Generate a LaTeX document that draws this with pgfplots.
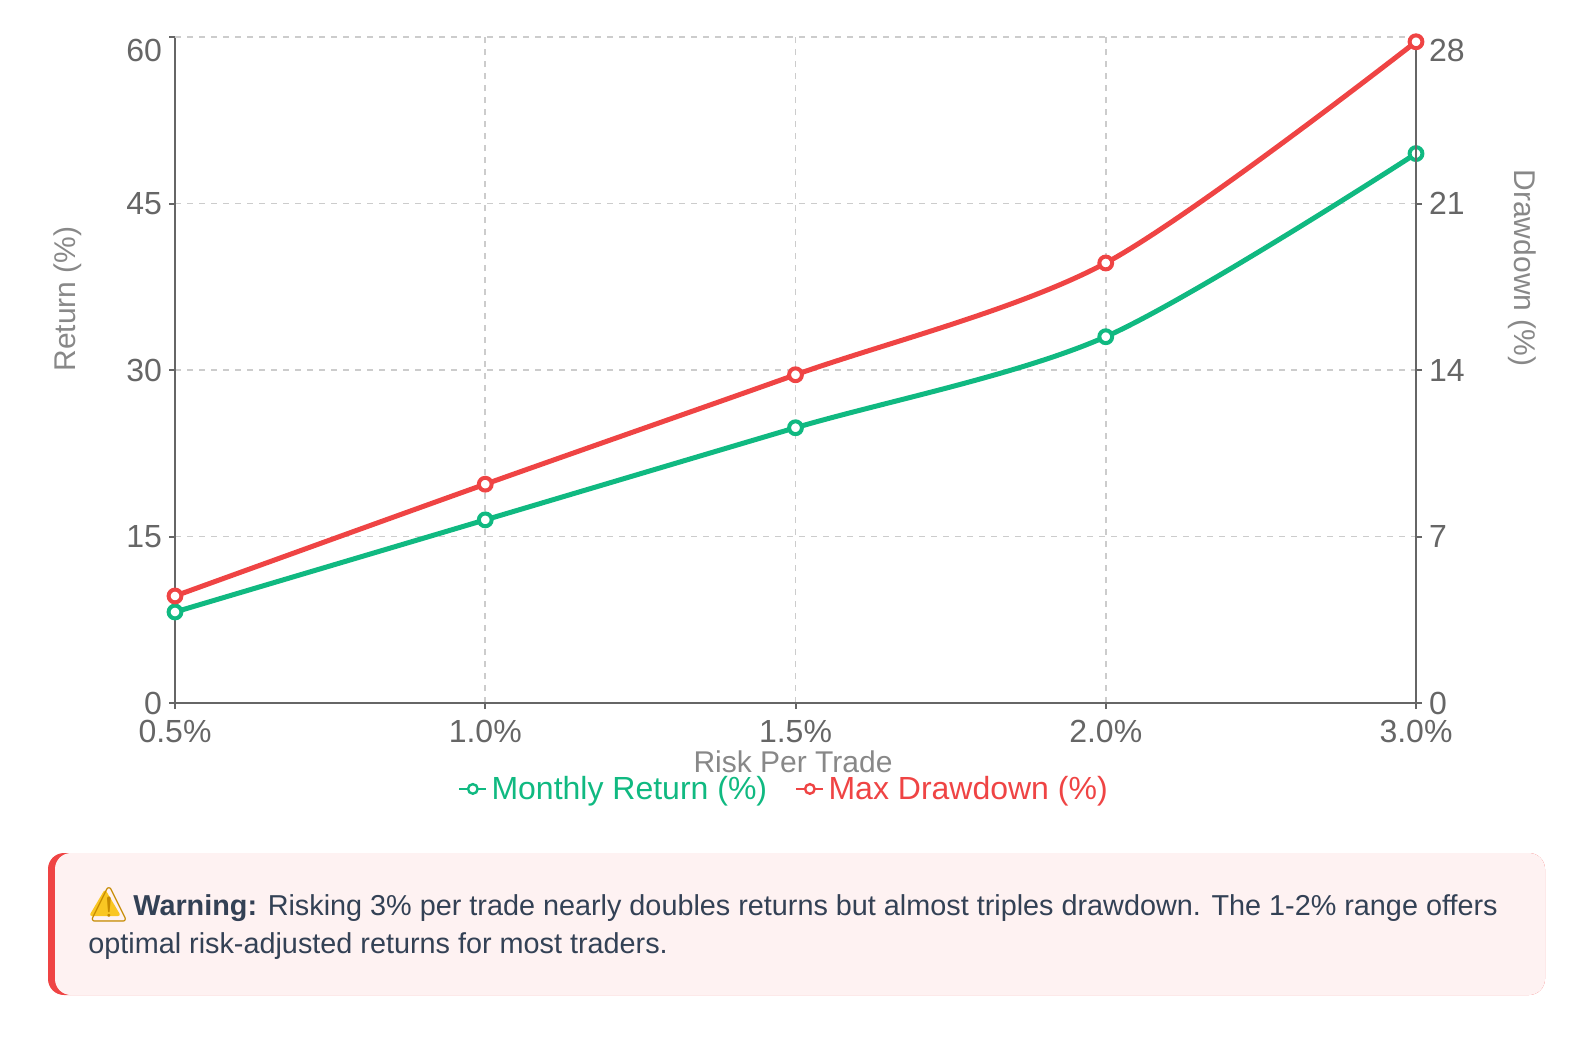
\documentclass[border=0pt]{standalone}
\usepackage{fontspec}
\setmainfont{Liberation Sans}
\newfontfamily\emojifont{Noto Emoji}
\usepackage{pgfplots}
\pgfplotsset{compat=1.18}
\definecolor{cgreen}{HTML}{10B981}
\definecolor{cred}{HTML}{EF4444}
\definecolor{axisgray}{HTML}{666666}
\definecolor{gridgray}{HTML}{CCCCCC}
\definecolor{labelgray}{HTML}{888888}
\definecolor{boxbg}{HTML}{FEF2F2}
\definecolor{textdark}{HTML}{334155}
\definecolor{warnyellow}{HTML}{F9C623}
\definecolor{warndark}{HTML}{C68A00}
\pgfplotstableread{
x y
0 8.2
1 16.5
2 24.8
3 33.0
4 49.5
}\returndata
\pgfplotstableread{
x y
0 4.5
1 9.2
2 13.8
3 18.5
4 27.8
}\drawdowndata
\newcommand\px[2]{({#1*0.5pt},{-#2*0.5pt})}
\begin{document}
\begin{tikzpicture}
\useasboundingbox \px{0}{0} rectangle \px{1580}{1041};
\pgfplotsset{
  common/.style={
    scale only axis, width=620.5pt, height=333pt,
    at={(87.5pt,-351.5pt)}, anchor=south west,
    xmin=0, xmax=4, clip=false,
    tick align=outside, major tick length=3pt,
    tick style={draw=axisgray, line width=1pt},
    axis line style={-, draw=axisgray, line width=1pt},
    ticklabel style={font=\fontsize{16}{19}\selectfont, text=axisgray, inner sep=1pt},
    xticklabel style={yshift=-4.5pt},
    /pgf/number format/assume math mode=true,
    extra y tick style={grid=major, yticklabel style={yshift=-6.5pt}},
  },
  every axis plot/.append style={line width=2.5pt},
}
\begin{axis}[common,
  axis x line*=bottom, axis y line*=left,
  yticklabel style={xshift=-2.3pt},
  ymin=0, ymax=60, ytick={0,15,30,45}, extra y ticks={60},
  xtick={0,1,2,3,4},
  xticklabels={0.5\%,1.0\%,1.5\%,2.0\%,3.0\%},
  grid=major,
  grid style={draw=gridgray, line width=0.8pt, dash pattern=on 3pt off 3pt},
]
\addplot[cgreen, smooth, mark=*, mark options={fill=white, draw=cgreen, line width=2pt}, mark size=3.2pt] table[x=x,y=y]{\returndata};
\end{axis}
\begin{axis}[common,
  axis x line=none, axis y line*=right,
  yticklabel style={xshift=2.3pt},
  ymin=0, ymax=28, ytick={0,7,14,21}, extra y ticks={28},
  grid style={draw=gridgray, line width=0.8pt, dash pattern=on 3pt off 3pt},
  legend style={at={(0.4915,-0.129)}, anchor=center, draw=none, fill=none,
    legend columns=2, font=\fontsize{16}{19}\selectfont,
    /tikz/every even column/.append style={column sep=12pt}},
  legend cell align=left,
  legend image code/.code={\draw[#1, mark repeat=2, mark phase=2] plot coordinates {(0pt,0pt)(6.75pt,0pt)(13.5pt,0pt)};},
  legend image post style={line width=1.2pt, mark size=2.4pt, mark options={fill=white, solid, line width=1.2pt}},
]
\addlegendimage{cgreen, mark=*, mark options={fill=white, draw=cgreen}}
\addlegendentry{\textcolor{cgreen}{Monthly Return (\%)}}
\addplot[cred, smooth, mark=*, mark options={fill=white, draw=cred, line width=2pt}, mark size=3.2pt] table[x=x,y=y]{\drawdowndata};
\addlegendentry{\textcolor{cred}{Max Drawdown (\%)}}
\end{axis}
\node[rotate=90, text=labelgray, font=\fontsize{15}{18}\selectfont] at \px{68}{299} {Return (\%)};
\node[rotate=-90, text=labelgray, font=\fontsize{15}{18}\selectfont] at \px{1522}{268} {Drawdown (\%)};
\node[text=labelgray, font=\fontsize{15}{18}\selectfont] at \px{793}{762} {Risk Per Trade};
% warning box
\fill[cred, rounded corners=8pt] \px{48}{853} rectangle \px{1545}{995};
\fill[boxbg, rounded corners=8pt] \px{55}{853} rectangle \px{1545}{995};
\fill[warnyellow, rounded corners=1.5pt] \px{89}{916} -- \px{121}{916} -- \px{105}{889} -- cycle;
\node[anchor=base west, inner sep=0pt, text=warndark, font=\emojifont\fontsize{17}{20}\selectfont] at \px{87}{916} {⚠};
\node[anchor=base west, inner sep=0pt, text=textdark, font=\fontsize{14.4}{19}\selectfont] at \px{133}{915} {\textbf{Warning:} Risking 3\% per trade nearly doubles returns but almost triples drawdown. The 1-2\% range offers};
\node[anchor=base west, inner sep=0pt, text=textdark, font=\fontsize{14.4}{19}\selectfont] at \px{88}{953} {optimal risk-adjusted returns for most traders.};
\end{tikzpicture}
\end{document}
